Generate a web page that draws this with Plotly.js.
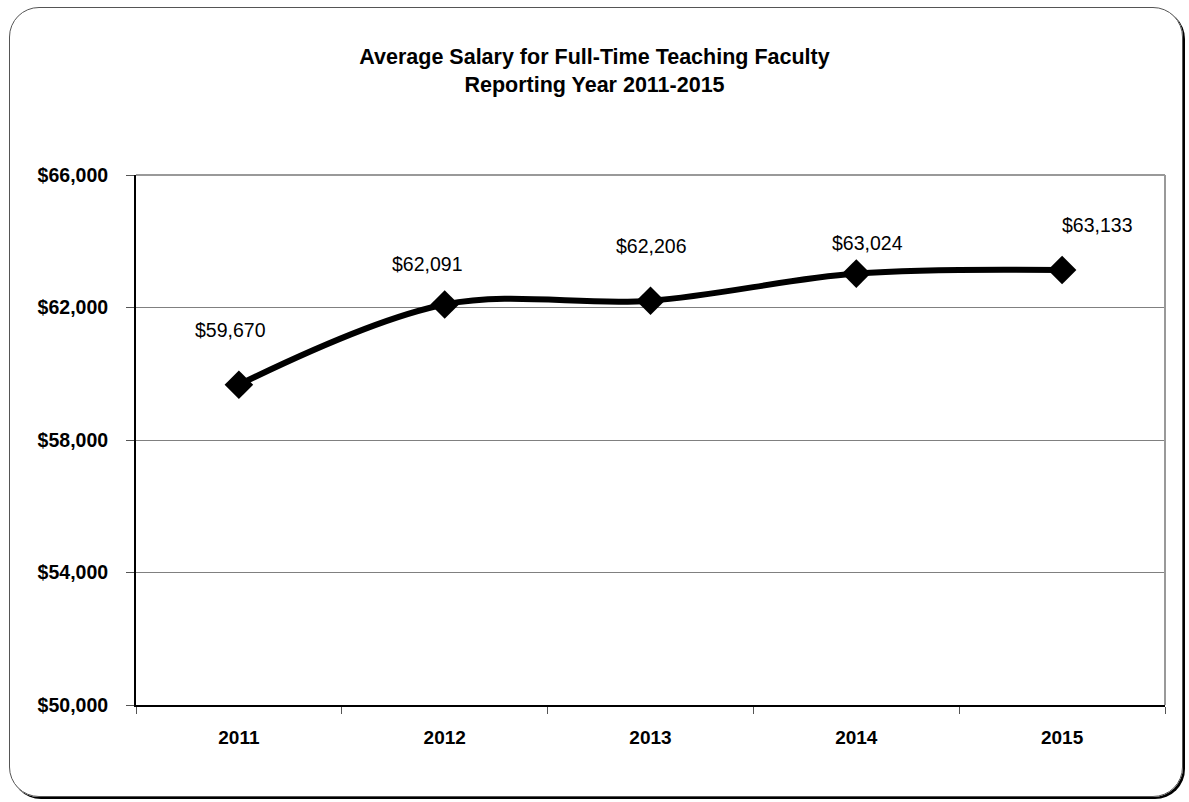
<!DOCTYPE html>
<html>
<head>
<meta charset="utf-8">
<script src="https://cdn.plot.ly/plotly-3.0.1.min.js"></script>
<style>
  html, body { margin: 0; padding: 0; background: #fff; }
  #frame {
    position: absolute; left: 9px; top: 7px; width: 1174px; height: 790px;
    border: 1.5px solid #555; border-radius: 30px;
    box-shadow: 2px 2px 0px #000; box-sizing: border-box;
  }
  #chart { position: absolute; left: 0; top: 0; width: 1189px; height: 802px; }
</style>
</head>
<body>
<div id="frame"></div>
<div id="chart"></div>
<script>
const years = ['2011', '2012', '2013', '2014', '2015'];
const salaries = [59670, 62091, 62206, 63024, 63133];
const labels = ['$59,670', '$62,091', '$62,206', '$63,024', '$63,133'];
const yTicks = [50000, 54000, 58000, 62000, 66000];
const yTickText = ['$50,000', '$54,000', '$58,000', '$62,000', '$66,000'];

const FONT = '"Liberation Sans Narrow", "Arial Narrow", "Liberation Sans", Arial, sans-serif';

// label offsets (pixel styling)
const lblDX = [-8, -17, 1, 11, 35];
const lblDY = [55, 40, 55, 31, 45];

const trace = {
  x: years, y: salaries, type: 'scatter', mode: 'lines+markers',
  line: { color: '#000', width: 6, shape: 'spline', smoothing: 1 },
  marker: { symbol: 'diamond', size: 22, color: '#000' },
  hoverinfo: 'skip'
};

const annotations = years.map((yr, i) => ({
  x: i, y: salaries[i], xref: 'x', yref: 'y', text: labels[i],
  showarrow: false, xshift: lblDX[i], yshift: lblDY[i],
  font: { family: FONT, size: 19.5, color: '#000', weight: 500 }
}));

const layout = {
  width: 1189, height: 802,
  margin: { l: 136, r: 24, t: 175, b: 97 },
  paper_bgcolor: 'rgba(0,0,0,0)', plot_bgcolor: '#fff',
  showlegend: false,
  title: {
    text: '<b>Average Salary for Full-Time Teaching Faculty<br>Reporting Year 2011-2015</b>',
    x: 0.5, xanchor: 'center', y: 0.92, yanchor: 'middle',
    font: { family: FONT, size: 21.5, color: '#000' }
  },
  xaxis: {
    type: 'category', range: [-0.5, 4.5], fixedrange: true,
    showgrid: false, zeroline: false,
    showline: true, linecolor: '#000', linewidth: 2,
    ticks: 'outside', tickson: 'boundaries', ticklen: 7, tickcolor: '#555', tickwidth: 1,
    ticklabelstandoff: 14,
    tickfont: { family: FONT, size: 19, color: '#000', weight: 'bold' }
  },
  yaxis: {
    range: [50000, 66000], fixedrange: true,
    tickvals: yTicks, ticktext: yTickText,
    showgrid: true, gridcolor: '#808080', gridwidth: 1, zeroline: false,
    showline: true, linecolor: '#000', linewidth: 2,
    ticks: 'outside', ticklen: 8, tickcolor: '#555', tickwidth: 1,
    ticklabelstandoff: 14,
    tickfont: { family: FONT, size: 19.5, color: '#000', weight: 'bold' }
  },
  shapes: [
    { type: 'line', xref: 'paper', yref: 'paper', x0: 0, x1: 1, y0: 1, y1: 1,
      line: { color: '#999', width: 2 } },
    { type: 'line', xref: 'paper', yref: 'paper', x0: 1, x1: 1, y0: 0, y1: 1,
      line: { color: '#999', width: 2 } }
  ],
  annotations: annotations
};

Plotly.newPlot('chart', [trace], layout, { displayModeBar: false, staticPlot: true });
</script>
</body>
</html>
